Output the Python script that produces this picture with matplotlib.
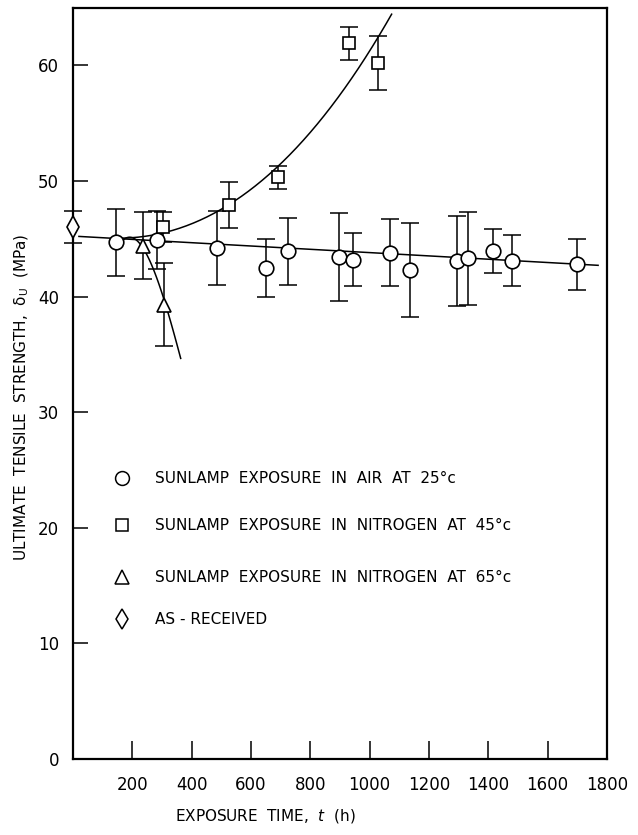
import numpy as np
import matplotlib
matplotlib.use("Agg")
import matplotlib.pyplot as plt

plt.rcParams['font.family'] = ['Liberation Sans Narrow', 'DejaVu Sans']

# Sunlamp exposure in air at 25 C
air_t = [144, 284, 484, 649, 724, 898, 945, 1068, 1136, 1293, 1332, 1417, 1481, 1698]
air_v = [44.7, 44.9, 44.2, 42.5, 43.9, 43.4, 43.2, 43.8, 42.3, 43.1, 43.3, 43.9, 43.1, 42.8]
air_err = [2.9, 2.5, 3.2, 2.5, 2.9, 3.8, 2.3, 2.9, 4.1, 3.9, 4.0, 1.9, 2.2, 2.2]

# Sunlamp exposure in nitrogen at 45 C
n45_t = [304, 526, 692, 931, 1029]
n45_v = [46.0, 47.9, 50.3, 61.9, 60.2]
n45_err = [1.3, 2.0, 1.0, 1.4, 2.3]

# Sunlamp exposure in nitrogen at 65 C
n65_t = [237, 308]
n65_v = [44.4, 39.3]
n65_err = [2.9, 3.6]

# As-received
asr_t = [0]
asr_v = [46.0]
asr_err = [1.4]

# Trend lines
air_line_t = [20, 1770]
air_line_v = [45.2, 42.7]
n45_curve_t = [150, 330, 551, 709, 776, 877, 956, 1023, 1074]
n45_curve_v = [45.0, 45.8, 48.4, 51.3, 53.6, 57.1, 59.3, 62.2, 64.4]
n65_curve_t = [170, 226, 244, 293, 327, 363]
n65_curve_v = [44.9, 44.5, 44.0, 40.6, 38.2, 34.6]

x_ticks = [200, 400, 600, 800, 1000, 1200, 1400, 1600, 1800]
y_ticks = [0, 10, 20, 30, 40, 50, 60]

legend_labels = [
    "SUNLAMP  EXPOSURE  IN  AIR  AT  25°c",
    "SUNLAMP  EXPOSURE  IN  NITROGEN  AT  45°c",
    "SUNLAMP  EXPOSURE  IN  NITROGEN  AT  65°c",
    "AS - RECEIVED",
]

W, H = 638, 835
fig = plt.figure(figsize=(W / 100, H / 100), dpi=100)
ax = fig.add_axes([73 / W, 1 - 759 / H, (607 - 73) / W, (759 - 7.5) / H])

ax.set_xlim(0, 1800)
ax.set_ylim(0, 65)

lw = 1.1
ax.plot(air_line_t, air_line_v, color='black', lw=lw, zorder=1)

c45 = np.polyfit(n45_curve_t, n45_curve_v, 3)
tt = np.linspace(n45_curve_t[0], n45_curve_t[-1], 200)
ax.plot(tt, np.polyval(c45, tt), color='black', lw=lw, zorder=1)

c65 = np.polyfit(n65_curve_t, n65_curve_v, 3)
tt = np.linspace(n65_curve_t[0], n65_curve_t[-1], 100)
ax.plot(tt, np.polyval(c65, tt), color='black', lw=lw, zorder=1)

series = [
    (air_t, air_v, air_err, 'o', 10.5),
    (n45_t, n45_v, n45_err, 's', 8.5),
    (n65_t, n65_v, n65_err, '^', 10.5),
    (asr_t, asr_v, asr_err, 'd', 11),
]
for t, v, e, m, ms in series:
    ax.errorbar(t, v, yerr=e, fmt='none', ecolor='black', elinewidth=lw,
                capsize=6.5, capthick=lw, zorder=2, clip_on=False)
    ax.plot(t, v, linestyle='none', marker=m, ms=ms, mfc='white', mec='black',
            mew=1.2, zorder=3, clip_on=False)

# Legend drawn as marker + text rows inside the plot area
leg_y = [24.3, 20.2, 15.7, 12.1]
for (t, v, e, m, ms), y, lab in zip(series, leg_y, legend_labels):
    ax.plot([165], [y], linestyle='none', marker=m, ms=ms * 0.95, mfc='white',
            mec='black', mew=1.1)
    ax.text(276, y, lab, fontsize=11, va='center', ha='left')

for s in ax.spines.values():
    s.set_linewidth(1.6)

ax.set_xticks(x_ticks)
ax.set_xticklabels([str(v) for v in x_ticks])
ax.set_yticks(y_ticks)
ax.set_yticklabels([str(v) for v in y_ticks])
ax.tick_params(axis='x', direction='in', length=13, width=1.1, pad=12, labelsize=12)
ax.tick_params(axis='y', direction='in', length=11, width=1.1, pad=10, labelsize=12)

fig.text(265 / W, 1 - 816 / H, "EXPOSURE  TIME,  $\\mathbf{\\mathit{t}}$  (h)",
         fontsize=11, ha='center', va='center')
fig.text(22 / W, 1 - 397 / H,
         "ULTIMATE  TENSILE  STRENGTH,  δ$_\\mathrm{U}$  (MPa)",
         fontsize=11, ha='center', va='center', rotation=90)

fig.savefig("out.png", dpi=100)
